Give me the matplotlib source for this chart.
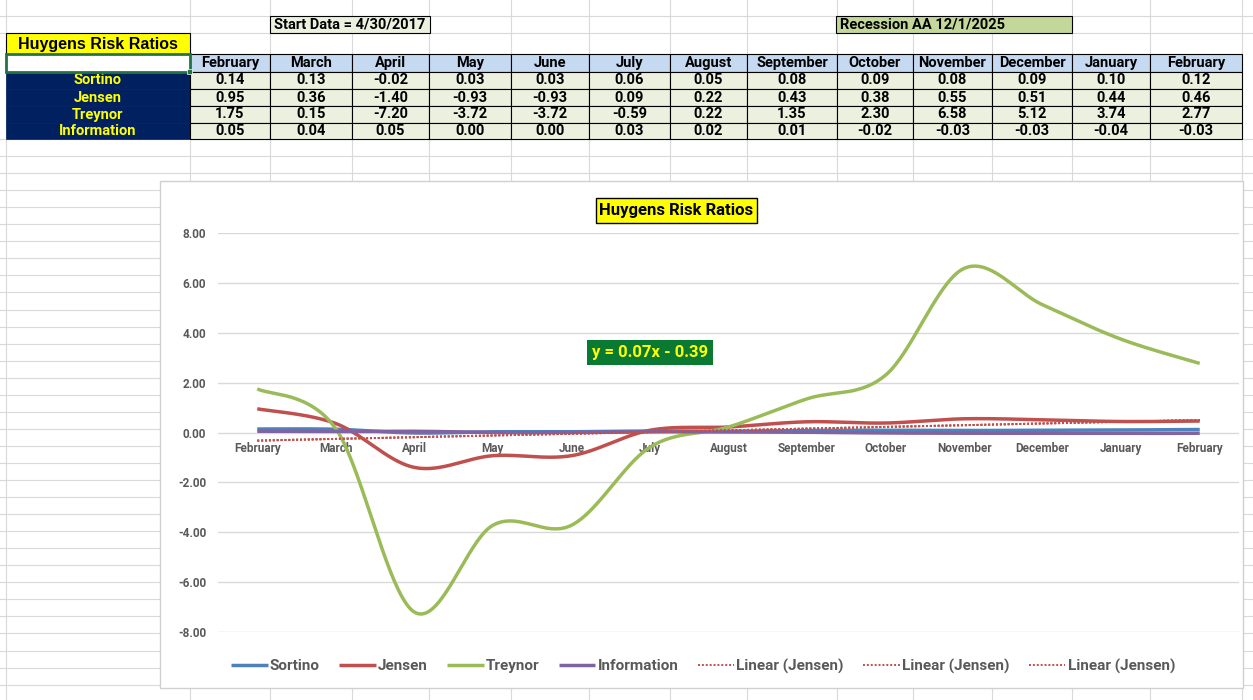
import numpy as np
import matplotlib
matplotlib.use('Agg')
import matplotlib.pyplot as plt
from matplotlib.patches import Rectangle
from matplotlib.ticker import FormatStrFormatter

# Datos de la tabla / grafico
months = ['February', 'March', 'April', 'May', 'June', 'July', 'August',
          'September', 'October', 'November', 'December', 'January', 'February']
ratio_names = ['Sortino', 'Jensen', 'Treynor', 'Information']
sortino = [0.14, 0.13, -0.02, 0.03, 0.03, 0.06, 0.05, 0.08, 0.09, 0.08, 0.09, 0.10, 0.12]
jensen = [0.95, 0.36, -1.40, -0.93, -0.93, 0.09, 0.22, 0.43, 0.38, 0.55, 0.51, 0.44, 0.46]
treynor = [1.75, 0.15, -7.20, -3.72, -3.72, -0.59, 0.22, 1.35, 2.30, 6.58, 5.12, 3.74, 2.77]
information = [0.05, 0.04, 0.05, 0.00, 0.00, 0.03, 0.02, 0.01, -0.02, -0.03, -0.03, -0.04, -0.03]
series = [sortino, jensen, treynor, information]
yticks = [-8, -6, -4, -2, 0, 2, 4, 6, 8]

# Colores
c_blue = '#4F81BD'
c_red = '#C0504D'
c_green = '#9BBB59'
c_purple = '#8064A2'
line_colors = [c_blue, c_red, c_green, c_purple]
c_grid_sheet = '#D9D9D9'
c_navy = '#002060'
c_header = '#C5D9F1'
c_cell = '#EBF1DE'
c_axis_text = '#595959'

narrow = ['Liberation Sans Narrow', 'Roboto', 'DejaVu Sans']
chart_font = ['Roboto', 'DejaVu Sans']

W, H = 1253, 700
fig = plt.figure(figsize=(W / 100, H / 100), dpi=100)
fig.patch.set_facecolor('white')

# Hoja de calculo (fondo en pixeles)
bg = fig.add_axes([0, 0, 1, 1])
bg.set_xlim(0, W)
bg.set_ylim(H, 0)
bg.axis('off')

col_edges = [6, 190, 270, 352, 429, 511, 589, 670, 747, 837, 913, 992, 1072, 1150, 1242]
row_lines = [16, 33] + list(np.arange(139, H, 17.05))
for x in col_edges:
    bg.plot([x, x], [0, H], color=c_grid_sheet, lw=0.8, zorder=1)
for y in row_lines:
    bg.plot([0, W], [y, y], color=c_grid_sheet, lw=0.8, zorder=1)

# Cajas de texto superiores
bg.add_patch(Rectangle((270, 16), 160, 17, facecolor=c_cell, edgecolor='black', lw=0.8, zorder=2))
bg.text(274, 24.5, 'Start Data = 4/30/2017', family=narrow, weight='bold', fontsize=10.5,
        va='center', ha='left', zorder=3)
bg.add_patch(Rectangle((836, 16), 236, 17, facecolor='#C4D79B', edgecolor='black', lw=0.8, zorder=2))
bg.text(840, 24.5, 'Recession AA 12/1/2025', family=narrow, weight='bold', fontsize=10.5,
        va='center', ha='left', zorder=3)
bg.add_patch(Rectangle((6, 33), 184, 21, facecolor='#FFFF00', edgecolor='black', lw=0.8, zorder=2))
bg.text(98, 44, 'Huygens Risk Ratios', family=['Liberation Sans', 'DejaVu Sans'], weight='bold',
        fontsize=11.5, va='center', ha='center', zorder=3)

# Tabla
row_tops = [54, 72, 89, 106, 123, 139]
bg.add_patch(Rectangle((6, 54), 184, 18, facecolor='white', edgecolor='#217346', lw=2, zorder=4))
bg.add_patch(Rectangle((187, 69), 5, 5, facecolor='#217346', edgecolor='white', lw=0.5, zorder=5))
for j, m in enumerate(months):
    x0, x1 = col_edges[j + 1], col_edges[j + 2]
    bg.add_patch(Rectangle((x0, 54), x1 - x0, 18, facecolor=c_header, edgecolor='black', lw=0.8, zorder=2))
    bg.text((x0 + x1) / 2, 63, m, family=narrow, weight='bold', fontsize=10.5,
            ha='center', va='center', zorder=3)
for i, name in enumerate(ratio_names):
    y0, y1 = row_tops[i + 1], row_tops[i + 2]
    bg.add_patch(Rectangle((6, y0), 184, y1 - y0, facecolor=c_navy, edgecolor=c_navy, lw=0.5, zorder=2))
    bg.text(98, (y0 + y1) / 2, name, family=narrow, weight='bold', fontsize=10.5, color='#FFFF00',
            ha='center', va='center', zorder=3)
    for j, v in enumerate(series[i]):
        x0, x1 = col_edges[j + 1], col_edges[j + 2]
        bg.add_patch(Rectangle((x0, y0), x1 - x0, y1 - y0, facecolor=c_cell, edgecolor='black',
                               lw=0.8, zorder=2))
        bg.text((x0 + x1) / 2, (y0 + y1) / 2, f'{v:.2f}', family=narrow, weight='bold', fontsize=10.5,
                ha='center', va='center', zorder=3)

# Marco del grafico
bg.add_patch(Rectangle((160, 181), 1083, 507, facecolor='white', edgecolor='#D0D0D0', lw=1, zorder=6))
bg.add_patch(Rectangle((596, 198), 161, 25, facecolor='#FFFF00', edgecolor='black', lw=1, zorder=7))
bg.text(676.5, 210.5, 'Huygens Risk Ratios', family=chart_font, weight='bold', fontsize=12,
        ha='center', va='center', zorder=8)


def smooth(vals, steps=40):
    # curva suavizada tipo Excel (Catmull-Rom con Bezier)
    p = np.column_stack([np.arange(len(vals)), np.asarray(vals, float)])
    t = np.linspace(0, 1, steps)[:, None]
    out = []
    for i in range(len(p) - 1):
        p0 = p[i - 1] if i > 0 else p[i]
        p1, p2 = p[i], p[i + 1]
        p3 = p[i + 2] if i + 2 < len(p) else p[i + 1]
        c1 = p1 + (p2 - p0) / 6
        c2 = p2 - (p3 - p1) / 6
        seg = (1 - t) ** 3 * p1 + 3 * (1 - t) ** 2 * t * c1 + 3 * (1 - t) * t ** 2 * c2 + t ** 3 * p2
        out.append(seg)
    out = np.vstack(out)
    return out[:, 0], out[:, 1]


ax = fig.add_axes([218 / W, (H - 632) / H, 1021 / W, 399 / H])
ax.set_zorder(10)
ax.patch.set_alpha(0)

for vals, name, col in zip(series, ratio_names, line_colors):
    xs, ys = smooth(vals)
    ax.plot(xs, ys, color=col, lw=2.5, label=name, solid_capstyle='butt')

# Linea de tendencia (Jensen)
xnum = np.arange(1, len(jensen) + 1)
slope, intercept = np.polyfit(xnum, jensen, 1)
for k in range(3):
    ax.plot(np.arange(len(jensen)), slope * xnum + intercept, color=c_red, lw=1.4,
            linestyle=(0, (1, 1)), label='Linear (Jensen)')

sign = '-' if intercept < 0 else '+'
ax.text(5, 3.2, f'y = {slope:.2f}x {sign} {abs(intercept):.2f}', family=chart_font, weight='bold',
        fontsize=12, color='#FFFF00', ha='center', va='center',
        bbox=dict(boxstyle='square,pad=0.3', facecolor='#0A7A32', edgecolor='none'))

ax.set_xlim(-0.5, len(months) - 0.5)
ax.set_ylim(-8, 8)
ax.set_yticks(yticks)
ax.yaxis.set_major_formatter(FormatStrFormatter('%.2f'))
ax.set_xticks(range(len(months)))
ax.set_xticklabels(months)
ax.grid(axis='y', color='#D9D9D9', lw=1)
ax.set_axisbelow(True)
for s in ax.spines.values():
    s.set_visible(False)
ax.spines['bottom'].set_position(('data', 0))
ax.tick_params(axis='both', length=0, colors=c_axis_text)
ax.tick_params(axis='y', pad=8.5)
ax.tick_params(axis='x', pad=6.5)
for lab in ax.get_xticklabels() + ax.get_yticklabels():
    lab.set_family(chart_font)
    lab.set_fontweight('bold')
    lab.set_fontsize(8.5)

leg = ax.legend(loc='center', bbox_to_anchor=(703 / W, 1 - 666 / H), bbox_transform=fig.transFigure,
                ncol=7, frameon=False, handlelength=2.4, handletextpad=0.15, columnspacing=1.25,
                prop={'family': chart_font, 'weight': 'bold', 'size': 11})
for txt in leg.get_texts():
    txt.set_color(c_axis_text)

plt.savefig('out.png', dpi=100)
